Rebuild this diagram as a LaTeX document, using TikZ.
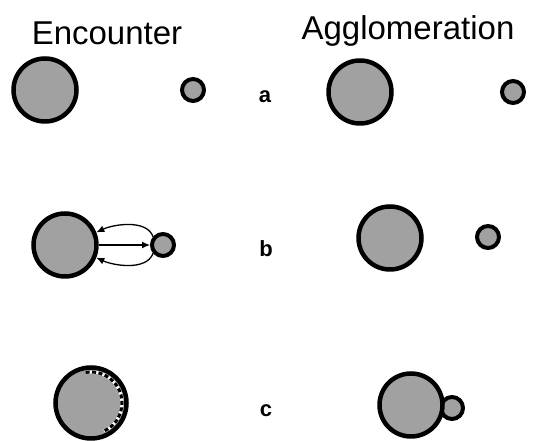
\documentclass[tikz,border=0pt]{standalone}
\usepackage{fontspec}
\setmainfont{Liberation Sans}
\usepackage{xcolor}
\usetikzlibrary{shapes,arrows.meta,positioning}

\definecolor{cellgray}{gray}{0.63}
\tikzset{
    bigcell/.style={draw, circle, fill=cellgray, line width=4.5pt, minimum size=63pt, inner sep=0pt},
    smallcell/.style={draw, circle, fill=cellgray, line width=4pt, minimum size=22pt, inner sep=0pt},
    title/.style={anchor=base, font=\fontsize{33}{36}\selectfont},
    rowlabel/.style={anchor=base, font=\bfseries\fontsize{22}{24}\selectfont},
    flow/.style={-{Latex[length=8pt,width=7pt]}, line width=1.3pt}
}

\begin{document}
\begin{tikzpicture}[x=1pt, y=1pt]
    \useasboundingbox (0,0) rectangle (533,441);

    \node[title] (enc) at (107,396) {Encounter};
    \node[title] (agg) at (408,401) {Agglomeration};

    % row a
    \node[bigcell] (ea1) at (45,351) {};
    \node[smallcell] (ea2) at (193,351) {};
    \node[rowlabel] (la) at (265,338) {a};
    \node[bigcell] (aa1) at (360,349) {};
    \node[smallcell] (aa2) at (513,349) {};

    % row b
    \node[bigcell] (eb1) at (65,196) {};
    \node[smallcell] (eb2) at (163,196) {};
    \node[rowlabel] (lb) at (266,184) {b};
    \node[bigcell] (ab1) at (390,203) {};
    \node[smallcell] (ab2) at (488,204) {};

    \draw[flow] (eb1) -- (eb2);
    \draw[flow] (eb2.140) to[out=110, in=25, looseness=0.85] (eb1.22);
    \draw[flow] (eb2.220) to[out=250, in=-25, looseness=0.85] (eb1.-22);

    % row c
    \node[bigcell, minimum size=71pt] (ec1) at (91,38) {};
    \draw[white, line width=3pt] (ec1.center) ++(100:31) arc (100:-65:31);
    \draw[black, dash pattern=on 4pt off 2.5pt, line width=3pt] (ec1.center) ++(100:31) arc (100:-65:31);
    \node[rowlabel] (lc) at (266,24) {c};
    \node[smallcell] (ac2) at (452,33) {};
    \node[bigcell] (ac1) at (411,36) {};

\end{tikzpicture}
\end{document}
